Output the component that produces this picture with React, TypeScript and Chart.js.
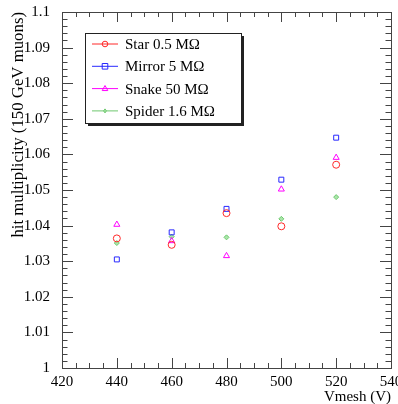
import React, { useEffect, useRef } from "react";
import { Chart, registerables } from "chart.js";

Chart.register(...registerables);

const vmesh = [440, 460, 480, 500, 520];
const star = [1.0364, 1.0346, 1.0435, 1.0398, 1.0571];
const mirror = [1.0305, 1.0381, 1.0447, 1.0529, 1.0647];
const snake = [1.0403, 1.0357, 1.0315, 1.0502, 1.0591];
const spider = [1.0351, 1.0369, 1.0367, 1.0419, 1.048];

const seriesLabels = ["Star 0.5 M\u03A9", "Mirror 5 M\u03A9", "Snake 50 M\u03A9", "Spider 1.6 M\u03A9"];
const xTitle = "Vmesh (V)";
const yTitle = "hit multiplicity (150 GeV muons)";

const FONT = "'Liberation Serif', 'Times New Roman', serif";

const toPts = (ys: number[]) => vmesh.map((x, i) => ({ x, y: ys[i] }));

const frameTicks = {
  id: "frameTicks",
  afterDatasetsDraw(chart: any) {
    const { ctx, chartArea: a, scales } = chart;
    const xs = scales.x;
    const ys = scales.y;
    ctx.save();
    ctx.strokeStyle = "#444";
    ctx.lineWidth = 1;
    ctx.strokeRect(Math.round(a.left) + 0.5, Math.round(a.top) + 0.5, Math.round(a.right - a.left), Math.round(a.bottom - a.top));
    ctx.beginPath();
    for (let v = xs.min; v <= xs.max + 1e-9; v += 5) {
      const px = Math.round(xs.getPixelForValue(v)) + 0.5;
      const major = Math.abs(v % 20) < 1e-6;
      const len = major ? 10 : 5;
      ctx.moveTo(px, a.bottom);
      ctx.lineTo(px, a.bottom - len);
      ctx.moveTo(px, a.top);
      ctx.lineTo(px, a.top + len);
    }
    for (let k = 0; k <= 50; k++) {
      const v = ys.min + k * 0.002;
      const py = Math.round(ys.getPixelForValue(v)) + 0.5;
      const major = k % 5 === 0;
      const len = major ? 11 : 5.5;
      ctx.moveTo(a.left, py);
      ctx.lineTo(a.left + len, py);
      ctx.moveTo(a.right, py);
      ctx.lineTo(a.right - len, py);
    }
    ctx.stroke();
    ctx.restore();
  },
};

function drawMarker(ctx: CanvasRenderingContext2D, style: string, r: number, x: number, y: number) {
  ctx.beginPath();
  if (style === "circle") {
    ctx.arc(x, y, r, 0, Math.PI * 2);
  } else if (style === "rect") {
    ctx.rect(x - r, y - r, 2 * r, 2 * r);
  } else if (style === "triangle") {
    ctx.moveTo(x, y - r * 1.1);
    ctx.lineTo(x + r, y + r * 0.7);
    ctx.lineTo(x - r, y + r * 0.7);
    ctx.closePath();
  } else {
    ctx.moveTo(x, y - r);
    ctx.lineTo(x + r * 0.7, y);
    ctx.lineTo(x, y + r);
    ctx.lineTo(x - r * 0.7, y);
    ctx.closePath();
  }
  ctx.fill();
  ctx.stroke();
}

const boxLegend = {
  id: "boxLegend",
  afterDraw(chart: any) {
    const { ctx } = chart;
    const x0 = 85, y0 = 33, w = 156, h = 90;
    ctx.save();
    ctx.fillStyle = "#222";
    ctx.fillRect(x0 + 3, y0 + h, w, 3);
    ctx.fillRect(x0 + w, y0 + 3, 3, h);
    ctx.fillStyle = "#fff";
    ctx.fillRect(x0, y0, w, h);
    ctx.strokeStyle = "#222";
    ctx.lineWidth = 1;
    ctx.strokeRect(x0 + 0.5, y0 + 0.5, w, h);
    chart.data.datasets.forEach((ds: any, i: number) => {
      const cy = 44 + i * 22.3;
      ctx.strokeStyle = ds.borderColor;
      ctx.lineWidth = 1;
      ctx.beginPath();
      ctx.moveTo(92, cy);
      ctx.lineTo(118, cy);
      ctx.stroke();
      ctx.fillStyle = ds.backgroundColor;
      ctx.strokeStyle = ds.borderColor;
      drawMarker(ctx, ds.pointStyle, ds.pointRadius * 0.8, 105, cy);
      ctx.fillStyle = "#000";
      ctx.font = `15px ${FONT}`;
      ctx.textBaseline = "middle";
      ctx.textAlign = "left";
      ctx.fillText(ds.label, 125, cy + 1);
    });
    ctx.restore();
  },
};

export default function App() {
  const ref = useRef<HTMLCanvasElement | null>(null);
  useEffect(() => {
    if (!ref.current) return;
    const mk = (label: string, data: number[], color: string, style: string, r: number, fill: string) => ({
      label,
      data: toPts(data),
      borderColor: color,
      backgroundColor: fill,
      pointStyle: style,
      pointRadius: r,
      pointBorderWidth: 1,
      showLine: false,
    });
    const chart = new Chart(ref.current, {
      type: "scatter",
      data: {
        datasets: [
          mk(seriesLabels[0], star, "rgb(255,40,40)", "circle", 3.5, "rgba(0,0,0,0)"),
          mk(seriesLabels[1], mirror, "rgb(40,40,255)", "rect", 3.5, "rgba(0,0,0,0)"),
          mk(seriesLabels[2], snake, "rgb(255,0,255)", "triangle", 3.5, "rgba(0,0,0,0)"),
          mk(seriesLabels[3], spider, "rgb(110,200,110)", "rectRot", 2.5, "rgb(170,230,170)"),
        ] as any,
      },
      options: {
        animation: false,
        responsive: false,
        devicePixelRatio: 1,
        layout: { padding: { top: 12, right: 7, left: 0, bottom: 0 } },
        plugins: { legend: { display: false }, tooltip: { enabled: false } },
        scales: {
          x: {
            type: "linear",
            min: 420,
            max: 540,
            grid: { display: false },
            border: { display: false },
            ticks: {
              stepSize: 20,
              padding: -3,
              color: "#000",
              font: { family: FONT, size: 15 },
              maxRotation: 0,
              autoSkip: false,
            },
            title: {
              display: true,
              text: xTitle,
              align: "end",
              color: "#000",
              font: { family: FONT, size: 15 },
              padding: { top: 0, bottom: -2 },
            },
            afterFit(s: any) {
              s.height = 36;
              s.paddingLeft = 0;
              s.paddingRight = 0;
            },
          },
          y: {
            type: "linear",
            min: 1,
            max: 1.1,
            grid: { display: false },
            border: { display: false },
            ticks: {
              stepSize: 0.01,
              padding: 4,
              color: "#000",
              font: { family: FONT, size: 15 },
              callback: (v: any) => String(parseFloat(Number(v).toFixed(2))),
            },
            title: {
              display: true,
              text: yTitle,
              align: "end",
              color: "#000",
              font: { family: FONT, size: 16.8 },
              padding: { top: 9, bottom: 0 },
            },
            afterFit(s: any) {
              s.width = 62;
              s.paddingTop = 0;
              s.paddingBottom = 0;
            },
          },
        },
      } as any,
      plugins: [frameTicks, boxLegend],
    });
    return () => chart.destroy();
  }, []);
  return (
    <div style={{ position: "fixed", left: 0, top: 0, width: 398, height: 404, background: "#fff", overflow: "hidden" }}>
      <canvas ref={ref} width={398} height={404} style={{ display: "block", width: 398, height: 404 }} />
    </div>
  );
}
